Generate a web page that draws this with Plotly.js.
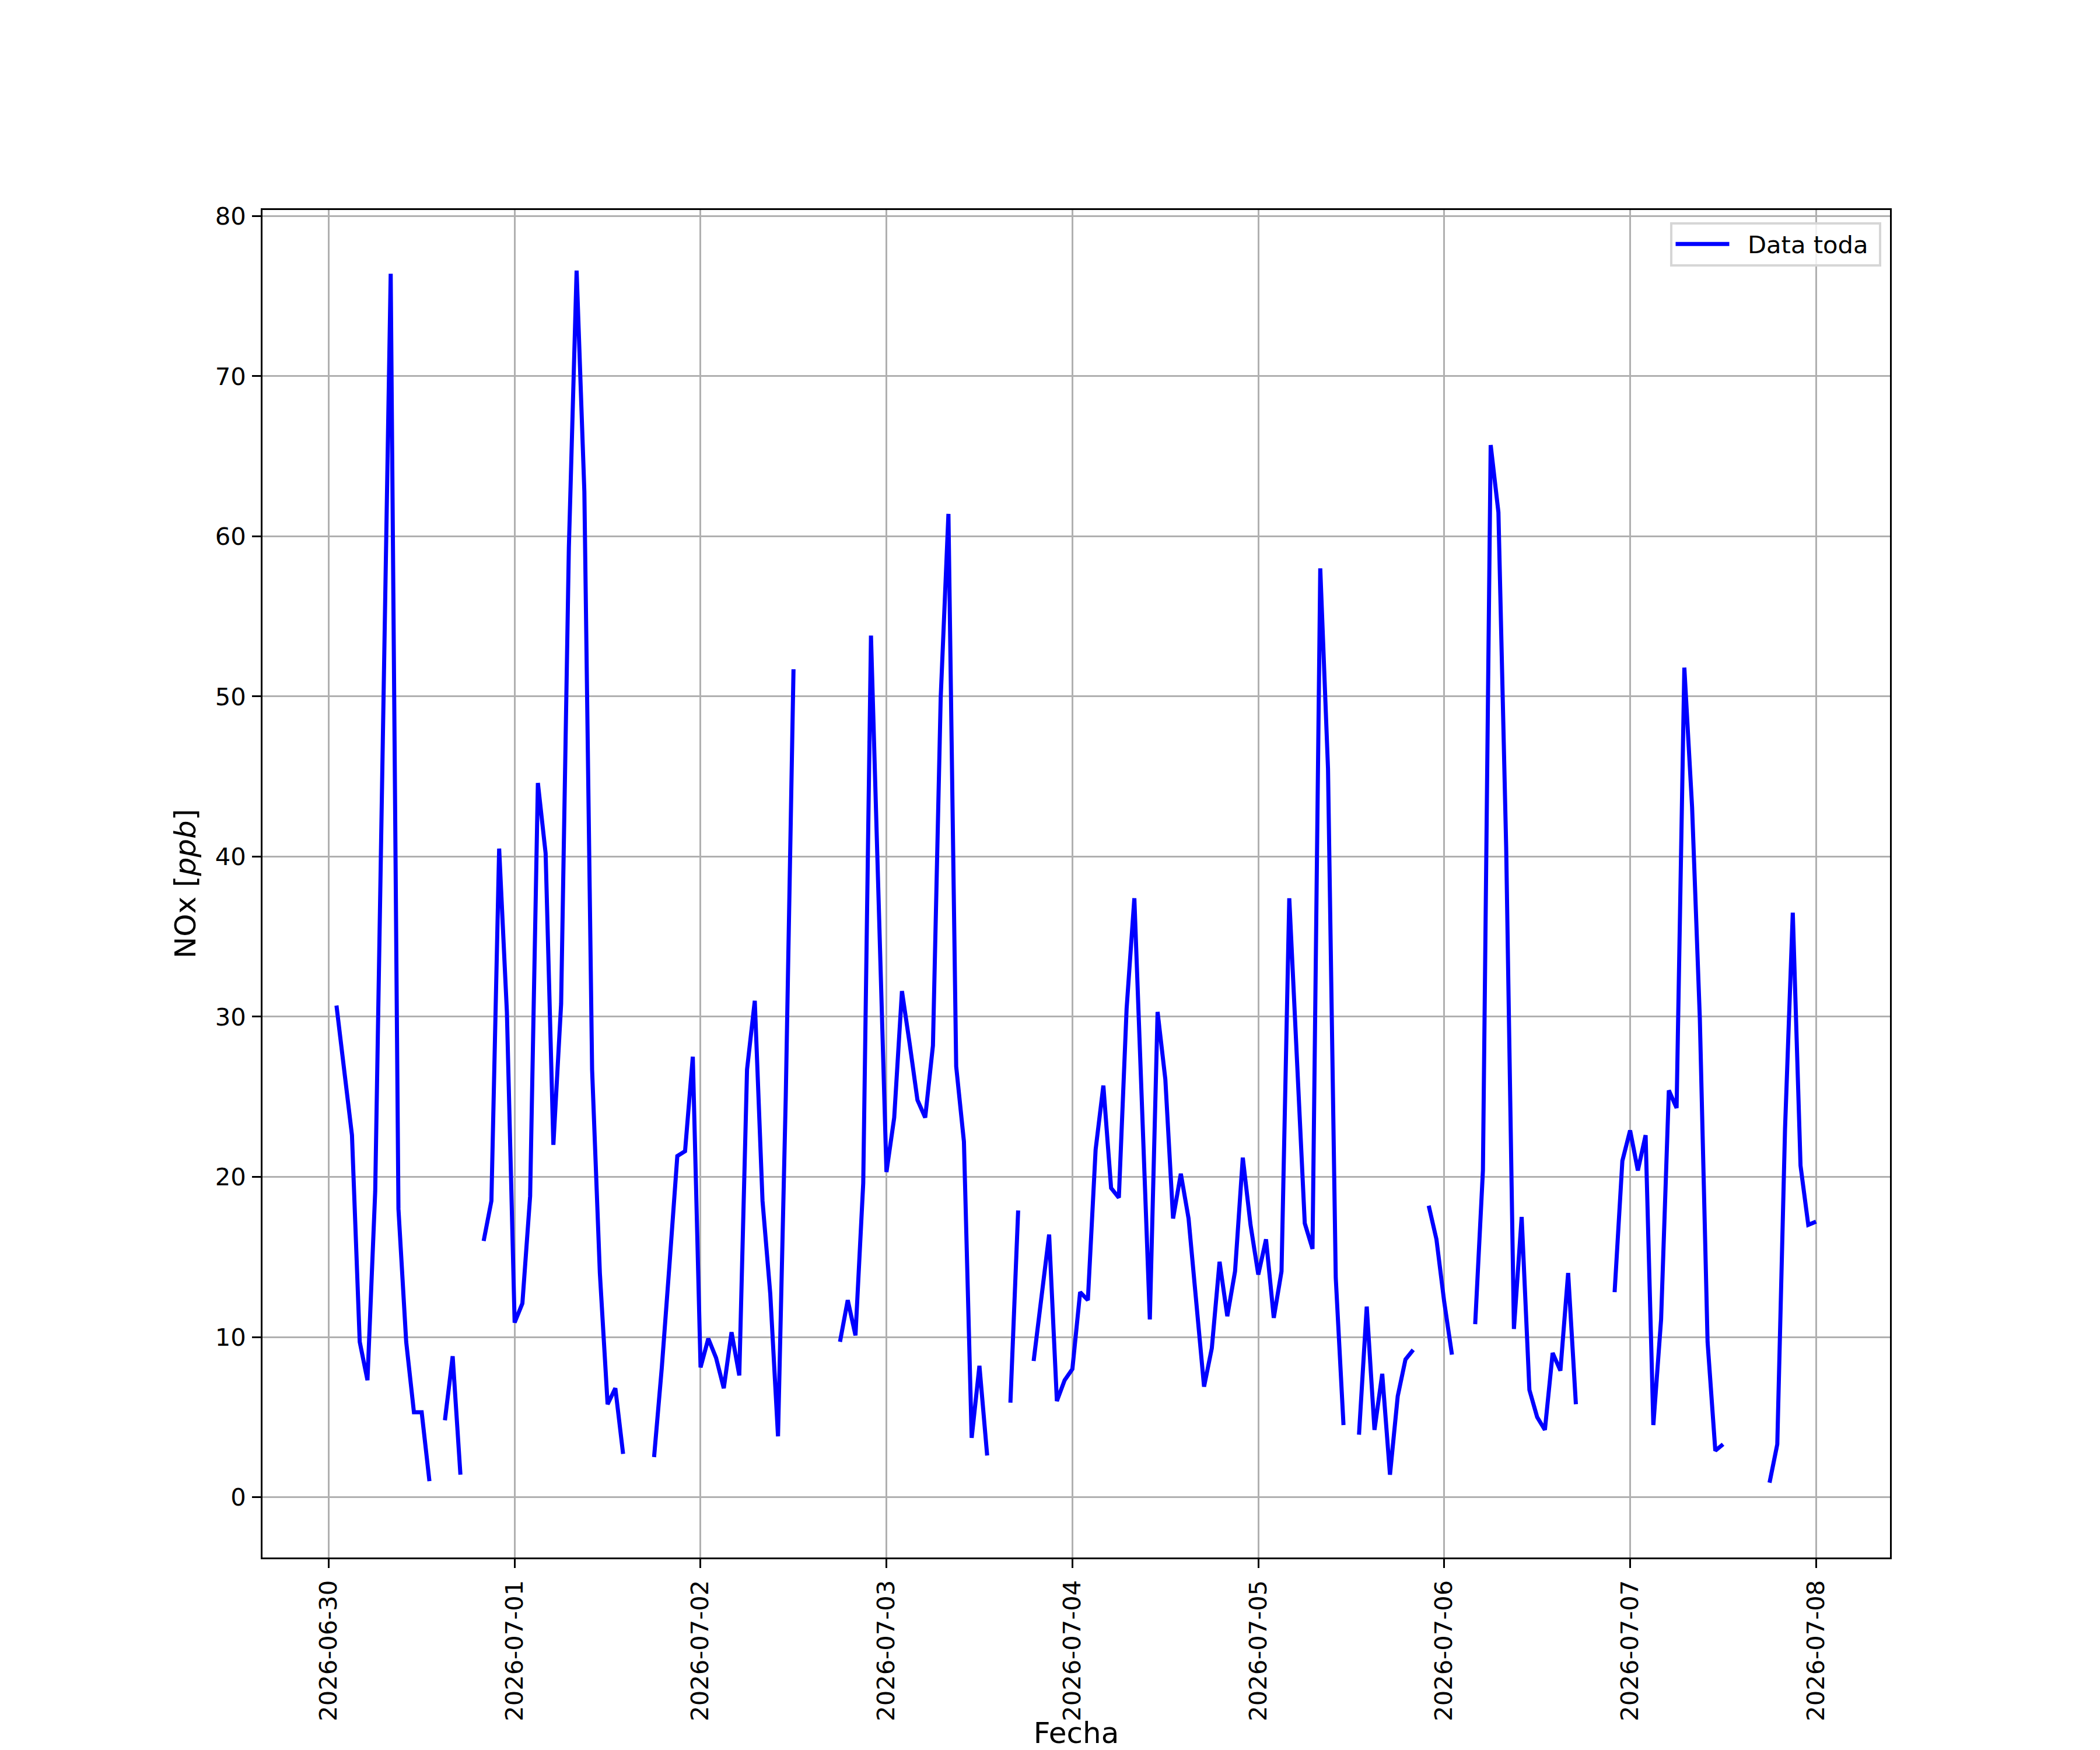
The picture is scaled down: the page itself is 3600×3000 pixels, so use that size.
<!DOCTYPE html>
<html>
<head>
<meta charset="utf-8">
<script src="https://cdn.plot.ly/plotly-3.0.1.min.js"></script>
<style>html,body{margin:0;padding:0;background:#fff}#chart{width:3600px;height:3000px}</style>
</head>
<body>
<div id="chart"></div>
<script>
// Hourly NOx values (ppb); null = missing hour
const startTime = "2026-06-30T01:00:00Z";
const nox_0630 = [30.7, 26.9, 22.6, 9.7, 7.3, 19.1, 49, 76.4, 18.0, 9.7, 5.3, 5.3, 1.0, null, 4.8, 8.8, 1.4, null, null, 16.0, 18.5, 40.5, 30.3];
const nox_0701 = [10.9, 12.1, 18.8, 44.6, 40.2, 22.0, 30.8, 59.3, 76.6, 62.8, 26.7, 14.0, 5.8, 6.8, 2.7, null, null, null, 2.5, 8.1, 14.6, 21.3, 21.6, 27.5];
const nox_0702 = [8.1, 9.9, 8.7, 6.8, 10.3, 7.6, 26.7, 31.0, 18.5, 12.7, 3.8, 25.0, 51.7, null, null, null, null, null, 9.7, 12.3, 10.1, 19.6, 53.8, 37.0];
const nox_0703 = [20.3, 23.7, 31.6, 28.3, 24.8, 23.7, 28.2, 49.9, 61.4, 26.9, 22.2, 3.7, 8.2, 2.6, null, null, 5.9, 17.9, null, 8.5, 12.5, 16.4, 6.0, 7.3];
const nox_0704 = [8.0, 12.8, 12.3, 21.7, 25.7, 19.3, 18.7, 30.5, 37.4, 24.2, 11.1, 30.3, 26.1, 17.4, 20.2, 17.4, 12.0, 6.9, 9.3, 14.7, 11.3, 14.1, 21.2, 17.0];
const nox_0705 = [13.9, 16.1, 11.2, 14.1, 37.4, 26.9, 17.1, 15.5, 58.0, 45.5, 13.7, 4.5, null, 3.9, 11.9, 4.2, 7.7, 1.4, 6.3, 8.6, 9.2, null, 18.2, 16.1];
const nox_0706 = [12.2, 8.9, null, null, 10.8, 20.4, 65.7, 61.5, 40.6, 10.5, 17.5, 6.7, 5.0, 4.2, 9.0, 7.9, 14.0, 5.8, null, null, null, null, 12.8, 21.0];
const nox_0707 = [22.9, 20.4, 22.6, 4.5, 11.1, 25.4, 24.3, 51.8, 43.1, 29.9, 9.7, 2.9, 3.3, null, null, null, null, null, 0.9, 3.3, 23.0, 36.5, 20.7, 17.0];
const nox_0708 = [17.2];

const seriesName = "Data toda";
const tickDates = ["2026-06-30", "2026-07-01", "2026-07-02", "2026-07-03", "2026-07-04", "2026-07-05", "2026-07-06", "2026-07-07", "2026-07-08"];
const yTicks = [0, 10, 20, 30, 40, 50, 60, 70, 80];
const yRange = [-3.77, 80.38];

const nox = [].concat(nox_0630, nox_0701, nox_0702, nox_0703, nox_0704, nox_0705, nox_0706, nox_0707, nox_0708);
const t0 = Date.parse(startTime);
const fmt = ms => new Date(ms).toISOString().slice(0, 19).replace('T', ' ');
const times = nox.map((_, i) => fmt(t0 + i * 3600e3));

// matplotlib-like 5% x margins
const tFirst = t0, tLast = t0 + (nox.length - 1) * 3600e3;
const pad = 0.05 * (tLast - tFirst);
const xRange = [fmt(tFirst - pad), fmt(tLast + pad)];

const FONT = "DejaVu Sans, Liberation Sans, sans-serif";
const tickFont = {family: FONT, size: 41.67, color: '#000'};
const titleFont = {family: FONT, size: 50, color: '#000'};

const trace = {
  x: times, y: nox, type: 'scatter', mode: 'lines',
  name: '\u00a0\u00a0' + seriesName + '\u00a0',
  line: {color: '#0000ff', width: 7}, connectgaps: false, hoverinfo: 'skip'
};

const axisCommon = {
  showline: true, linecolor: '#000', linewidth: 3, mirror: true,
  ticks: 'outside', ticklen: 15, tickwidth: 3, tickcolor: '#000',
  showgrid: true, gridcolor: '#b0b0b0', gridwidth: 3, zeroline: false,
  tickfont: tickFont, automargin: false
};

const layout = {
  width: 3600, height: 3000,
  margin: {l: 450, r: 360, t: 360, b: 330, pad: 0},
  paper_bgcolor: '#fff', plot_bgcolor: '#fff',
  font: {family: FONT, color: '#000'},
  showlegend: true,
  legend: {
    x: 0.9948, xanchor: 'right', y: 0.9911, yanchor: 'top',
    font: tickFont, bgcolor: 'rgba(255,255,255,0.8)',
    bordercolor: '#d6d6d6', borderwidth: 4, itemwidth: 92
  },
  xaxis: Object.assign({}, axisCommon, {
    type: 'date', range: xRange,
    tickmode: 'array', tickvals: tickDates, ticktext: tickDates,
    tickangle: -90, ticklabelstandoff: 4,
    title: {text: 'Fecha', font: titleFont, standoff: 36}
  }),
  yaxis: Object.assign({}, axisCommon, {
    range: yRange, tickmode: 'array', tickvals: yTicks, ticktext: yTicks.map(String),
    ticklabelstandoff: 2,
    title: {text: 'NOx [<i>ppb</i>]', font: titleFont, standoff: 18}
  })
};

Plotly.newPlot('chart', [trace], layout, {staticPlot: true, displayModeBar: false});
</script>
</body>
</html>
